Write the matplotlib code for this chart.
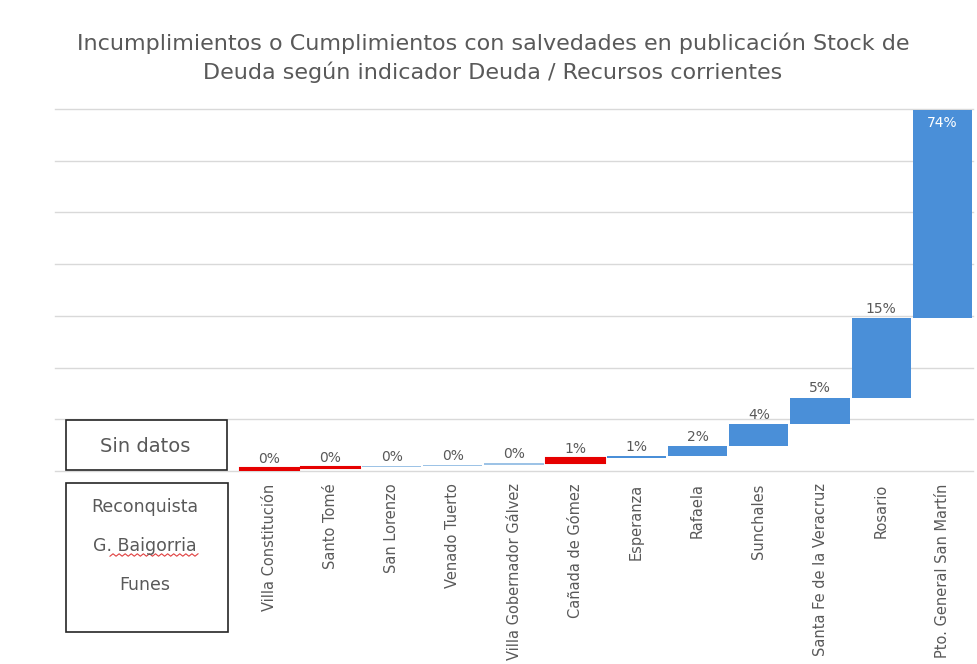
import numpy as np
import matplotlib
matplotlib.use("Agg")
import matplotlib.pyplot as plt
from matplotlib.patches import Rectangle
from matplotlib.lines import Line2D

plt.rcParams['font.family'] = ['DejaVu Sans']

# ---- data ----
categories = ["Villa Constitución", "Santo Tomé", "San Lorenzo", "Venado Tuerto",
              "Villa Gobernador Gálvez", "Cañada de Gómez", "Esperanza", "Rafaela",
              "Sunchales", "Santa Fe de la Veracruz", "Rosario", "Pto. General San Martín"]
# increments (bar heights), in chart units
increments = [0.6, 0.2, 0.2, 0.2, 0.3, 1.0, 0.4, 1.9, 4.2, 5.2, 15.4, 40.2]
value_labels = ["0%", "0%", "0%", "0%", "0%", "1%", "1%", "2%", "4%", "5%", "15%", "74%"]
bar_kind = ["red", "red", "light", "light", "light", "red",
            "blue", "blue", "blue", "blue", "blue", "blue"]
sin_datos = ["Reconquista", "G. Baigorria", "Funes"]

title = ("Incumplimientos o Cumplimientos con salvedades en publicación Stock de\n"
         "Deuda según indicador Deuda / Recursos corrientes")

colors = {"red": "#E60000", "light": "#9DC3E6", "blue": "#4A8FD8"}
grey = "#595959"

fig = plt.figure(figsize=(9.77, 6.64), dpi=100)
ax = fig.add_axes([55/977, 1-471/664, 918/977, (471-109)/664])

inc = np.array(increments)
tops = np.cumsum(inc)
bottoms = tops - inc
x = np.arange(len(categories))

for i in range(len(categories)):
    c = colors[bar_kind[i]]
    lw = 1.5 if bar_kind[i] == "red" else 0
    ax.bar(x[i], inc[i], bottom=bottoms[i], width=0.97, color=c,
           edgecolor=c, linewidth=lw, zorder=3)
    if i == len(categories) - 1:
        ax.annotate(value_labels[i], (x[i], tops[i]), xytext=(0, -4),
                    textcoords="offset points", ha="center", va="top",
                    fontsize=10, color="white", zorder=4)
    else:
        ax.annotate(value_labels[i], (x[i], tops[i]), xytext=(0, 1.5),
                    textcoords="offset points", ha="center", va="bottom",
                    fontsize=10, color=grey, zorder=4)

ax.set_xlim(-3.5, 11.5)
ax.set_ylim(0, 70)
ax.set_yticks(np.arange(0, 71, 10))
ax.set_yticklabels([])
ax.yaxis.grid(True, color="#D9D9D9", linewidth=1.0)
for gl in ax.get_ygridlines():
    gl.set_clip_on(False)
ax.set_axisbelow(True)
ax.tick_params(axis="both", length=0)
for s in ax.spines.values():
    s.set_visible(False)
ax.set_xticks(x)
ax.set_xticklabels(categories, rotation=90, fontsize=10.5, color=grey, va="top")
ax.tick_params(axis="x", pad=9)

fig.text(493/977, 1-58/664, title, ha="center", va="center", fontsize=16,
         color=grey, linespacing=1.4)

# boxes
b1 = Rectangle((66/977, 1-470/664), 161/977, 50/664, transform=fig.transFigure,
               fill=False, edgecolor="#262626", linewidth=1.2)
b2 = Rectangle((66/977, 1-632/664), 162/977, 149/664, transform=fig.transFigure,
               fill=False, edgecolor="#262626", linewidth=1.2)
fig.add_artist(b1)
fig.add_artist(b2)
fig.text(145/977, 1-446/664, "Sin datos", ha="center", va="center",
         fontsize=14, color=grey)
ys = [507, 546, 585]
for name, yy in zip(sin_datos, ys):
    fig.text(145/977, 1-yy/664, name, ha="center", va="center",
             fontsize=12.5, color=grey)
# spell-check squiggle under "Baigorria"
sx = np.linspace(110, 198, 30)
sy = 555 + 1.2*np.where(np.arange(30) % 2 == 0, 1, -1)
fig.add_artist(Line2D(sx/977, 1-sy/664, transform=fig.transFigure,
                      color="#E04040", linewidth=0.8))

fig.savefig("out.png", dpi=100)
